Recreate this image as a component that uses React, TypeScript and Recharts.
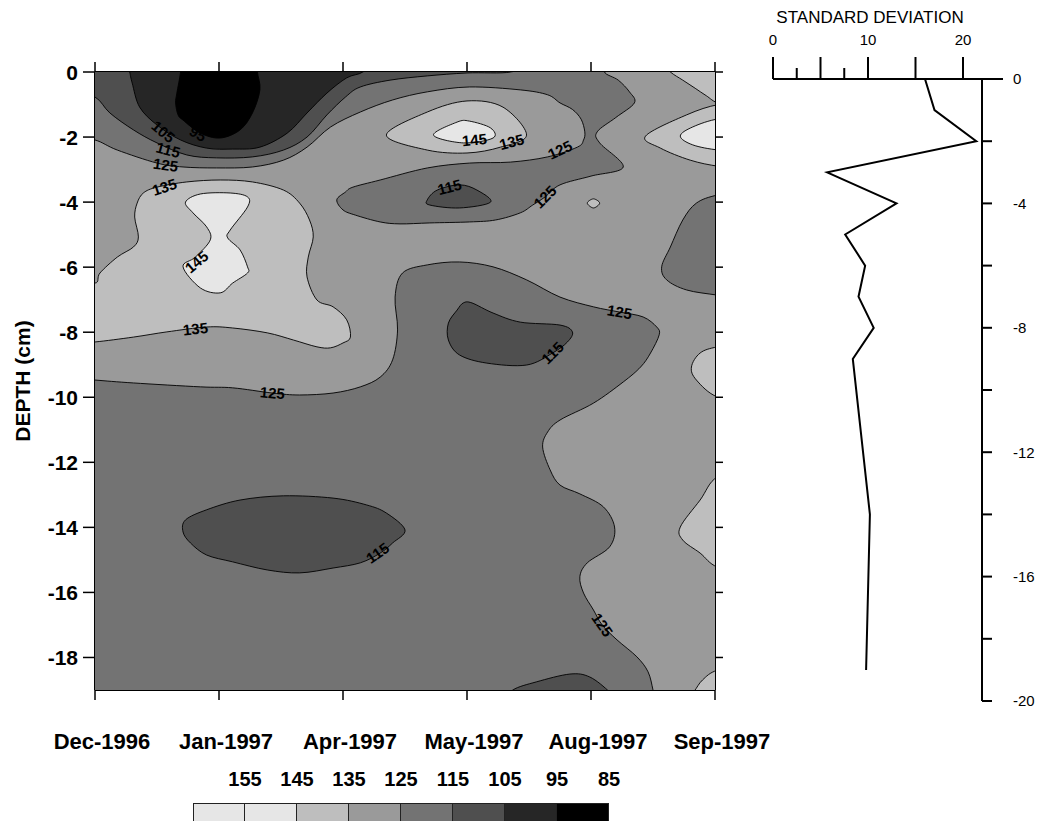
import React from 'react';
import { ComposedChart, Scatter, XAxis, YAxis, LineChart, Line } from 'recharts';

const FONT = 'Liberation Sans, Arial, Helvetica, sans-serif';

// main panel axes
const timeTicks = [0, 1, 2, 3, 4, 5];
const timeLabels = ['Dec-1996', 'Jan-1997', 'Apr-1997', 'May-1997', 'Aug-1997', 'Sep-1997'];
const depthTicks = [0, -2, -4, -6, -8, -10, -12, -14, -16, -18];

// colour scale
const levelLabels = ['155', '145', '135', '125', '115', '105', '95', '85'];
const levelColors = ['#e6e6e6', '#e6e6e6', '#bebebe', '#9a9a9a', '#737373', '#4f4f4f', '#262626', '#000000'];

// contour regions, [time index, depth]
const frameArea = [[-0.5, 0.5], [5.5, 0.5], [5.5, -19.5], [-0.5, -19.5]];
const cornerTR = [[4.55, 0.35], [4.64, 0.0], [4.74, -0.25], [4.84, -0.5], [4.93, -0.73], [5.04, -0.98], [5.3, -1.2], [5.4, 0.4]];
const upperLow = [
  [-0.2, 0.3], [4.2, 0.3], [4.11, 0], [4.22, -0.25], [4.31, -0.61], [4.35, -0.95], [4.2, -1.4], [4.05, -1.84], [4.07, -2.18],
  [4.26, -2.92], [4.0, -3.2], [3.75, -3.47], [3.63, -3.84], [3.53, -4.09], [3.43, -4.33], [3.23, -4.55], [3.02, -4.61],
  [2.7, -4.64], [2.46, -4.67], [2.3, -4.61], [2.1, -4.4], [2.0, -4.24], [1.95, -3.93], [2.02, -3.69], [2.08, -3.54],
  [2.3, -3.32], [2.68, -2.95], [3.02, -2.8], [3.35, -2.77], [3.65, -2.61], [3.89, -2.31], [3.94, -2.09], [3.95, -1.84],
  [3.92, -1.45], [3.85, -1.15], [3.75, -0.95], [3.65, -0.7], [3.43, -0.55], [3.02, -0.46], [2.68, -0.61], [2.4, -0.86],
  [2.14, -1.23], [1.9, -1.69], [1.71, -2.31], [1.52, -2.71], [1.27, -2.92], [0.98, -2.95], [0.71, -2.92], [0.5, -2.8],
  [0.18, -2.4], [0, -2.09], [-0.2, -2.0],
];
const rightEdgeLow = [[5.3, -3.6], [5.02, -3.78], [4.85, -4.03], [4.74, -4.55], [4.64, -5.38], [4.57, -5.99], [4.61, -6.39], [4.77, -6.7], [5.02, -6.86], [5.3, -7.0]];
const lowerLow = [
  [-0.2, -9.4], [0, -9.47], [0.31, -9.56], [0.85, -9.68], [1.11, -9.71], [1.43, -9.87], [1.65, -9.93], [1.92, -9.87],
  [2.14, -9.68], [2.3, -9.38], [2.4, -8.85], [2.44, -7.93], [2.42, -6.92], [2.48, -6.18], [2.68, -5.93], [2.94, -5.84],
  [3.21, -5.99], [3.48, -6.39], [3.75, -6.92], [4.02, -7.22], [4.23, -7.38], [4.42, -7.53], [4.53, -7.84], [4.55, -8.08],
  [4.48, -8.64], [4.4, -9.07], [4.26, -9.53], [4.02, -10.18], [3.75, -10.7], [3.65, -11.07], [3.61, -11.53], [3.67, -12.23],
  [3.75, -12.7], [3.91, -12.97], [4.1, -13.37], [4.19, -13.99], [4.15, -14.6], [3.97, -15.09], [3.91, -15.52], [3.94, -16.02],
  [4.02, -16.54], [4.09, -17.0], [4.21, -17.46], [4.37, -17.98], [4.46, -18.44], [4.5, -19.0], [4.52, -19.4], [-0.2, -19.4],
];
const topLeft115 = [
  [-0.2, 0.3], [3.4, 0.3], [3.35, 0], [3.0, -0.03], [2.68, -0.12], [2.38, -0.25], [2.14, -0.46], [2.02, -0.77], [1.87, -1.32],
  [1.71, -2.0], [1.52, -2.4], [1.27, -2.61], [0.98, -2.64], [0.74, -2.55], [0.5, -2.18], [0.31, -1.78], [0.12, -1.26],
  [0, -0.77], [-0.2, -0.6],
];
const mid115 = [[2.68, -3.93], [2.76, -3.63], [2.94, -3.47], [3.08, -3.63], [3.19, -4.0], [2.94, -4.18], [2.7, -4.09]];
const right115 = [
  [2.97, -7.1], [3.04, -7.1], [3.21, -7.41], [3.43, -7.69], [3.75, -7.78], [3.85, -7.99], [3.81, -8.3], [3.69, -8.64],
  [3.48, -9.01], [3.16, -8.95], [2.94, -8.7], [2.85, -8.24], [2.85, -7.72], [2.92, -7.32],
];
const island14 = [
  [0.71, -14.14], [0.73, -13.77], [0.9, -13.46], [1.17, -13.16], [1.52, -13.03], [1.92, -13.1], [2.19, -13.31], [2.35, -13.56],
  [2.5, -14.08], [2.4, -14.48], [2.3, -14.79], [2.14, -15.09], [1.92, -15.25], [1.65, -15.4], [1.39, -15.31], [1.11, -15.06],
  [0.9, -14.85], [0.77, -14.48],
];
const bottom115 = [[3.3, -19.4], [3.37, -19.0], [3.56, -18.75], [3.83, -18.51], [3.99, -18.6], [4.15, -19.06], [4.22, -19.4]];
const dark105 = [
  [0.26, 0.4], [0.28, 0], [0.3, -0.34], [0.36, -1.08], [0.5, -1.63], [0.69, -2.09], [0.9, -2.34], [1.11, -2.37],
  [1.33, -2.31], [1.55, -1.88], [1.71, -1.26], [1.87, -0.65], [2.03, -0.18], [2.16, 0], [2.25, 0.4],
];
const black95 = [
  [0.69, 0.4], [0.69, 0], [0.66, -0.65], [0.65, -0.95], [0.67, -1.32], [0.71, -1.48], [0.85, -1.88], [1.01, -2.03],
  [1.17, -1.78], [1.27, -1.26], [1.33, -0.55], [1.31, 0], [1.31, 0.4],
];
const left135 = [
  [-0.2, -6.3], [0, -6.49], [0.04, -6.18], [0.18, -5.69], [0.31, -5.38], [0.35, -5.07], [0.32, -4.46], [0.34, -4.03],
  [0.39, -3.72], [0.5, -3.54], [0.74, -3.38], [1.01, -3.32], [1.27, -3.38], [1.52, -3.63], [1.65, -4.03], [1.73, -4.55],
  [1.76, -5.07], [1.72, -5.69], [1.71, -6.3], [1.79, -7.01], [1.92, -7.22], [2.03, -7.62], [2.06, -8.15], [2.0, -8.33],
  [1.9, -8.48], [1.79, -8.45], [1.6, -8.24], [1.39, -8.02], [1.11, -7.87], [0.9, -7.84], [0.58, -7.99], [0.31, -8.15],
  [0, -8.3], [-0.2, -8.35],
];
const tongue135 = [[2.35, -1.94], [2.68, -1.23], [3.0, -0.89], [3.29, -1.08], [3.48, -1.94], [3.27, -2.31], [3.0, -2.49], [2.68, -2.4]];
const small135 = [[3.97, -4.03], [4.02, -3.9], [4.07, -4.03], [4.02, -4.18]];
const rightTop135 = [[5.3, -0.95], [5.03, -1.0], [4.77, -1.32], [4.44, -1.97], [4.56, -2.34], [4.8, -2.71], [5.03, -2.9], [5.3, -3.0]];
const rightMid135 = [[5.3, -8.3], [5.02, -8.45], [4.88, -8.64], [4.81, -9.07], [4.85, -9.47], [5.02, -9.99], [5.3, -10.1]];
const rightLow135 = [[5.3, -12.3], [5.02, -12.45], [4.88, -13.16], [4.72, -13.99], [4.74, -14.39], [4.88, -14.79], [5.02, -15.22], [5.3, -15.4]];
const bottomCorner135 = [[5.3, -18.2], [5.02, -18.39], [4.9, -18.69], [4.83, -19.05], [4.75, -19.4], [5.4, -19.4]];
const left145 = [
  [0.79, -4.33], [0.73, -4.0], [0.85, -3.75], [1.09, -3.72], [1.23, -3.84], [1.23, -4.15], [1.09, -4.86], [1.07, -5.1],
  [1.17, -5.47], [1.23, -5.99], [1.23, -6.18], [1.11, -6.49], [1.01, -6.79], [0.85, -6.64], [0.71, -5.99], [0.81, -5.69],
  [0.93, -5.16], [0.9, -4.76],
];
const mid145 = [[2.73, -1.94], [2.92, -1.54], [3.02, -1.51], [3.19, -1.72], [3.21, -2.03], [2.97, -2.18]];
const right145 = [[5.3, -1.4], [5.03, -1.44], [4.82, -1.69], [4.72, -1.97], [4.82, -2.24], [5.03, -2.4], [5.3, -2.45]];

// contour line labels
const contourLabels = [
  { x: 0.55, y: -1.84, text: '105', angle: 40 },
  { x: 0.83, y: -1.9, text: '95', angle: 30 },
  { x: 0.59, y: -2.4, text: '115', angle: 15 },
  { x: 0.57, y: -2.86, text: '125', angle: 8 },
  { x: 0.56, y: -3.54, text: '135', angle: -18 },
  { x: 0.82, y: -5.84, text: '145', angle: -40 },
  { x: 0.81, y: -7.9, text: '135', angle: -6 },
  { x: 1.43, y: -9.87, text: '125', angle: 5 },
  { x: 2.28, y: -14.79, text: '115', angle: -35 },
  { x: 4.23, y: -7.38, text: '125', angle: 10 },
  { x: 3.69, y: -8.64, text: '115', angle: -45 },
  { x: 4.09, y: -17.0, text: '125', angle: 55 },
  { x: 2.86, y: -3.54, text: '115', angle: -15 },
  { x: 3.63, y: -3.84, text: '125', angle: -45 },
  { x: 3.06, y: -2.09, text: '145', angle: -5 },
  { x: 3.36, y: -2.15, text: '135', angle: -15 },
  { x: 3.75, y: -2.4, text: '125', angle: -25 },
];

// standard deviation profile
const sdDepths = [0, -1, -2, -3, -4, -5, -6, -7, -8, -9, -14, -19];
const sdValues = [16.0, 17.0, 21.4, 5.7, 13.0, 7.6, 9.7, 9.0, 10.6, 8.4, 10.2, 9.8];
const sdTicks = [0, 2.5, 5, 7.5, 10, 12.5, 15, 17.5, 20];
const sdDepthTicks = [0, -2, -4, -6, -8, -10, -12, -14, -16, -18, -20];

const regionTable = [
  [frameArea, 3],
  [cornerTR, 2],
  [upperLow, 4],
  [rightEdgeLow, 4],
  [lowerLow, 4],
  [topLeft115, 5],
  [mid115, 5],
  [right115, 5],
  [island14, 5],
  [bottom115, 5],
  [dark105, 6],
  [black95, 7],
  [left135, 2],
  [tongue135, 2],
  [small135, 2],
  [rightTop135, 2],
  [rightMid135, 2],
  [rightLow135, 2],
  [bottomCorner135, 2],
  [left145, 1],
  [mid145, 1],
  [right145, 1],
];

const sdRows = sdDepths.map((d, i) => ({ depth: d, sd: sdValues[i] }));

// closed catmull-rom through the scaled points
const closedPath = (pts: { x: number; y: number }[]) => {
  if (!pts || !pts.length) return '';
  const n = pts.length;
  let d = `M${pts[0].x},${pts[0].y}`;
  for (let i = 0; i < n; i++) {
    const p0 = pts[(i - 1 + n) % n];
    const p1 = pts[i];
    const p2 = pts[(i + 1) % n];
    const p3 = pts[(i + 2) % n];
    const c1x = p1.x + (p2.x - p0.x) / 6;
    const c1y = p1.y + (p2.y - p0.y) / 6;
    const c2x = p2.x - (p3.x - p1.x) / 6;
    const c2y = p2.y - (p3.y - p1.y) / 6;
    d += ` C${c1x},${c1y} ${c2x},${c2y} ${p2.x},${p2.y}`;
  }
  return d + 'Z';
};

const regionLine = (fill: string, outline: boolean) => (props: any) => (
  <path d={closedPath(props.points)} fill={fill} stroke={outline ? '#000' : 'none'} strokeWidth={0.9} />
);

const hiddenPoint = () => <g />;

const ContourLabel = (props: any) => {
  const { cx, cy, payload } = props;
  return (
    <text
      x={cx}
      y={cy}
      dy="0.35em"
      textAnchor="middle"
      fontFamily={FONT}
      fontWeight="bold"
      fontSize={15}
      fill="#000"
      transform={`rotate(${payload.angle} ${cx} ${cy})`}
    >
      {payload.text}
    </text>
  );
};

const TimeTick = ({ x, y, payload }: any) => (
  <text x={x + 7} y={y + 49} textAnchor="middle" fontFamily={FONT} fontWeight="bold" fontSize={22} fill="#000">
    {timeLabels[payload.value]}
  </text>
);

const DepthTickLeft = ({ x, y, payload }: any) => (
  <text x={x} y={y} dy="0.36em" textAnchor="end" fontFamily={FONT} fontWeight="bold" fontSize={21} fill="#000">
    {payload.value}
  </text>
);

const emptyTick = () => <g />;

const SdTick = ({ x, y, payload }: any) => {
  const v = payload.value;
  const major = v % 5 === 0;
  return (
    <g>
      <line x1={x} x2={x} y1={y} y2={y - (major ? 22 : 11)} stroke="#000" strokeWidth={2} />
      {v % 10 === 0 && (
        <text x={x} y={y - 34} textAnchor="middle" fontFamily={FONT} fontSize={15} fill="#000">
          {v}
        </text>
      )}
    </g>
  );
};

const SdDepthTick = ({ x, y, payload }: any) => {
  const v = payload.value;
  return (
    <g>
      <line x1={x} x2={x + (v === 0 ? 21 : 10)} y1={y} y2={y} stroke="#000" strokeWidth={2} />
      {v % 4 === 0 && (
        <text x={x + 31} y={y} dy="0.36em" textAnchor="start" fontFamily={FONT} fontSize={15} fill="#000">
          {v}
        </text>
      )}
    </g>
  );
};

const axisStroke = { stroke: '#000', strokeWidth: 2 };
const tickStroke = { stroke: '#000', strokeWidth: 1.5 };

export default function App() {
  return (
    <div style={{ position: 'absolute', left: 0, top: 0, width: 1040, height: 821, background: '#fff', overflow: 'hidden', fontFamily: FONT }}>
      <div style={{ position: 'absolute', left: 0, top: 0 }}>
        <ComposedChart width={800} height={770} margin={{ top: 52, right: 65, bottom: 10, left: 10 }}>
          <XAxis
            xAxisId={0}
            type="number"
            dataKey="x"
            domain={[0, 5]}
            ticks={timeTicks}
            allowDataOverflow
            height={70}
            tickSize={10}
            tickMargin={0}
            axisLine={axisStroke}
            tickLine={tickStroke}
            tick={TimeTick}
          />
          <XAxis
            xAxisId="top"
            orientation="top"
            type="number"
            dataKey="x"
            domain={[0, 5]}
            ticks={timeTicks}
            allowDataOverflow
            height={20}
            tickSize={10}
            axisLine={axisStroke}
            tickLine={tickStroke}
            tick={emptyTick}
          />
          <YAxis
            yAxisId={0}
            type="number"
            dataKey="y"
            domain={[-19, 0]}
            ticks={depthTicks}
            allowDataOverflow
            width={85}
            tickSize={12}
            tickMargin={5}
            axisLine={axisStroke}
            tickLine={tickStroke}
            tick={DepthTickLeft}
          />
          <YAxis
            yAxisId="right"
            orientation="right"
            type="number"
            dataKey="y"
            domain={[-19, 0]}
            ticks={depthTicks}
            allowDataOverflow
            width={20}
            tickSize={8}
            axisLine={axisStroke}
            tickLine={tickStroke}
            tick={emptyTick}
          />
          {regionTable.map(([pts, band], i) => (
            <Scatter
              key={`region-${i}`}
              data={(pts as number[][]).map(([x, y]) => ({ x, y }))}
              line={regionLine(levelColors[band as number], i > 0)}
              lineType="joint"
              shape={hiddenPoint}
              legendType="none"
              isAnimationActive={false}
            />
          ))}
          <Scatter data={contourLabels} shape={ContourLabel} legendType="none" isAnimationActive={false} />
        </ComposedChart>
      </div>

      <div
        style={{
          position: 'absolute',
          left: 23,
          top: 381,
          transform: 'translate(-50%, -50%) rotate(-90deg)',
          fontWeight: 'bold',
          fontSize: 21,
          whiteSpace: 'nowrap',
          color: '#000',
        }}
      >
        DEPTH (cm)
      </div>

      <div style={{ position: 'absolute', left: 740, top: 0 }}>
        <LineChart layout="vertical" width={300} height={720} data={sdRows} margin={{ top: 0, right: 0, bottom: 19, left: 33 }}>
          <XAxis
            type="number"
            dataKey="sd"
            orientation="top"
            domain={[0, 22]}
            ticks={sdTicks}
            allowDataOverflow
            height={79}
            tickSize={0}
            tickMargin={0}
            tickLine={false}
            axisLine={axisStroke}
            tick={SdTick}
          />
          <YAxis
            type="number"
            dataKey="depth"
            orientation="right"
            domain={[-20, 0]}
            ticks={sdDepthTicks}
            reversed
            allowDataOverflow
            width={58}
            tickSize={0}
            tickMargin={0}
            tickLine={false}
            axisLine={axisStroke}
            tick={SdDepthTick}
          />
          <Line dataKey="sd" stroke="#000" strokeWidth={2} dot={false} isAnimationActive={false} />
        </LineChart>
      </div>

      <div style={{ position: 'absolute', left: 870, top: 8, transform: 'translateX(-50%)', fontSize: 17, color: '#000', whiteSpace: 'nowrap' }}>
        STANDARD DEVIATION
      </div>

      {levelLabels.map((lab, i) => (
        <div
          key={lab}
          style={{
            position: 'absolute',
            left: 193 + 52 * (i + 1),
            top: 768,
            transform: 'translateX(-50%)',
            fontWeight: 'bold',
            fontSize: 20,
            color: '#000',
          }}
        >
          {lab}
        </div>
      ))}
      {levelColors.map((c, i) => (
        <div
          key={`sw-${i}`}
          style={{
            position: 'absolute',
            left: 193 + 52 * i,
            top: 803,
            width: 52,
            height: 30,
            background: c,
            boxSizing: 'border-box',
            border: '1px solid #222',
            borderLeftWidth: i === 0 ? 1 : 0,
          }}
        />
      ))}
    </div>
  );
}
